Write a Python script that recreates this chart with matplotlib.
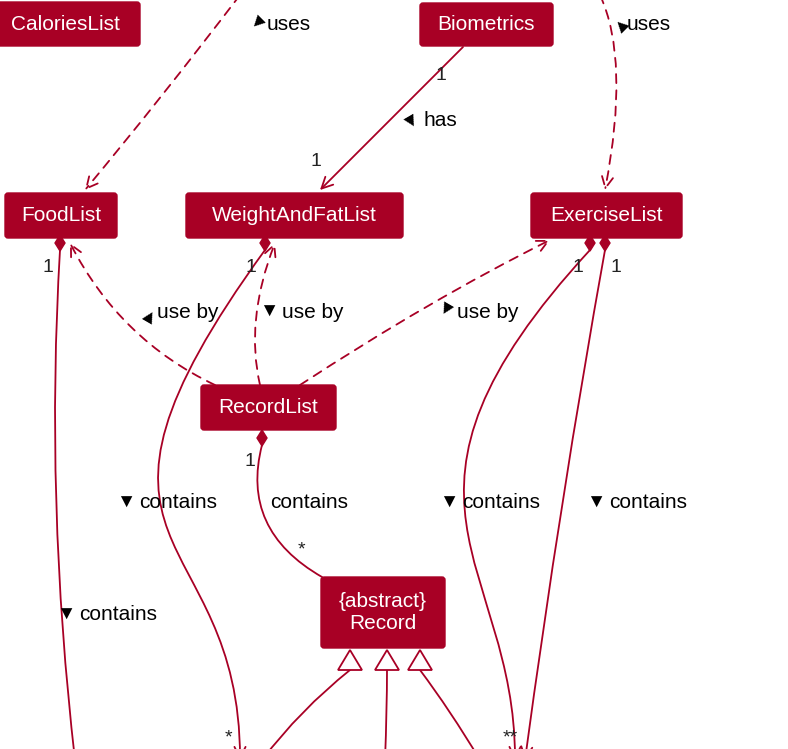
import matplotlib.pyplot as plt
from matplotlib.patches import FancyBboxPatch, FancyArrowPatch, Polygon
from matplotlib.path import Path

plt.rcParams['font.family'] = ['Liberation Sans', 'DejaVu Sans']
RED = '#A80025'
LINE = '#A80025'

# boxes: name, x0, y0, x1, y1 (pixel coords, y down)
box_names = ['CaloriesList', 'Biometrics', 'FoodList', 'WeightAndFatList',
             'ExerciseList', 'RecordList', '{abstract}\nRecord']
box_x0 = [-10, 420, 5, 186, 531, 201, 321]
box_y0 = [2, 3, 193, 193, 193, 385, 577]
box_x1 = [140, 553, 117, 403, 682, 336, 445]
box_y1 = [46, 46, 238, 238, 238, 430, 648]

# edges: control points, dashed, arrow head at end
edges = [
    ([(240, -5), (160, 100), (85, 190)], True, True),
    ([(600, -5), (630, 60), (605, 190)], True, True),
    ([(463, 47), (390, 120), (320, 190)], False, True),
    ([(215, 385), (120, 340), (70, 243)], True, True),
    ([(260, 385), (245, 320), (275, 243)], True, True),
    ([(300, 385), (430, 300), (550, 240)], True, True),
    ([(60, 250), (45, 500), (75, 760)], False, False),
    ([(265, 250), (40, 560), (240, 520), (240, 760)], False, True),
    ([(262, 445), (240, 530), (322, 577)], False, False),
    ([(590, 250), (360, 500), (515, 560), (515, 760)], False, True),
    ([(605, 250), (560, 500), (525, 760)], False, True),
    ([(350, 670), (300, 710), (262, 760)], False, False),
    ([(387, 670), (387, 710), (385, 760)], False, False),
    ([(420, 670), (450, 710), (480, 760)], False, False),
]

diamonds = [(60, 243), (265, 243), (262, 438), (590, 243), (605, 243)]
triangles = [(350, 650), (387, 650), (420, 650)]

labels = [
    (245, 25, '▶ uses', -45), (605, 25, '▶ uses', -135), (402, 121, '▶ has', 30),
    (135, 312, '▶ use by', 150), (260, 312, '▼ use by', 0), (435, 312, '▶ use by', -30),
    (117, 503, '▼ contains', 0), (270, 503, 'contains', None), (440, 503, '▼ contains', 0),
    (587, 503, '▼ contains', 0), (57, 615, '▼ contains', 0),
]
mults = [(441, 75, '1'), (316, 162, '1'), (48, 268, '1'), (251, 268, '1'),
         (578, 268, '1'), (616, 268, '1'), (250, 462, '1'), (301, 550, '*'),
         (228, 738, '*'), (510, 738, '**')]

fig = plt.figure(figsize=(7.88, 7.49), dpi=100)
ax = fig.add_axes([0, 0, 1, 1])
ax.set_xlim(0, 788)
ax.set_ylim(749, 0)
ax.axis('off')

for pts, dashed, head in edges:
    codes = [Path.MOVETO] + ([Path.CURVE3] * 2 if len(pts) == 3 else [Path.CURVE4] * 3)
    p = Path(pts, codes)
    ap = FancyArrowPatch(path=p, arrowstyle='->,head_length=8,head_width=4' if head else '-',
                         color=LINE, lw=1.3, linestyle=(0, (5, 4)) if dashed else '-',
                         mutation_scale=1, zorder=1)
    ax.add_patch(ap)

for x, y in diamonds:
    ax.add_patch(Polygon([(x, y - 8), (x + 5, y), (x, y + 8), (x - 5, y)],
                         closed=True, fc=RED, ec=RED, zorder=3))
for x, y in triangles:
    ax.add_patch(Polygon([(x, y), (x + 12, y + 20), (x - 12, y + 20)],
                         closed=True, fc='white', ec=LINE, lw=1.3, zorder=3))

for n, x0, y0, x1, y1 in zip(box_names, box_x0, box_y0, box_x1, box_y1):
    ax.add_patch(FancyBboxPatch((x0, y0), x1 - x0, y1 - y0,
                                boxstyle='round,pad=0,rounding_size=3',
                                fc=RED, ec=RED, zorder=4))
    ax.text((x0 + x1) / 2, (y0 + y1) / 2, n, color='white', fontsize=15,
            ha='center', va='center', zorder=5, linespacing=1.2)

for x, y, t, rot in labels:
    if rot is None:
        ax.text(x, y, t, fontsize=15, va='center', ha='left')
    else:
        word = t.split(' ', 1)[1]
        ax.text(x + 9, y, '▼', fontsize=14, va='center', ha='center',
                rotation=rot if t[0] == '▶' else 0)
        ax.text(x + 22, y, word, fontsize=15, va='center', ha='left')

for x, y, t in mults:
    ax.text(x, y, t, fontsize=14, va='center', ha='center', color='#222222')

fig.savefig('out.png', dpi=100)
